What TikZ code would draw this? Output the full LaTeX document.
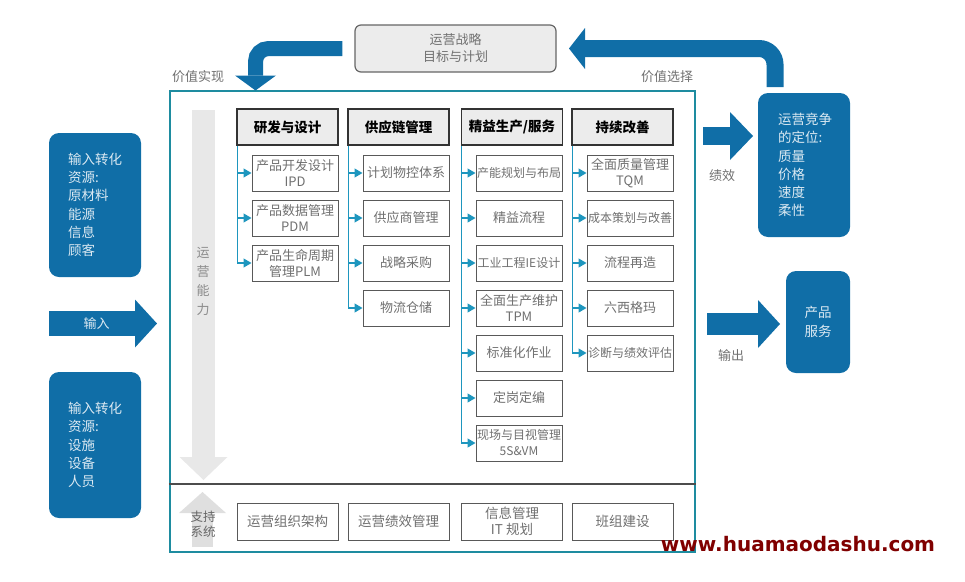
\documentclass[tikz,border=0pt]{standalone}
\usepackage{fontspec}
\usetikzlibrary{arrows.meta}
\newfontfamily\cjk{Noto Sans CJK SC}
\newfontfamily\wmfont{DejaVu Sans}
\definecolor{opblue}{RGB}{16,110,167}
\definecolor{frameteal}{RGB}{30,140,160}
\definecolor{linkteal}{RGB}{30,150,190}
\definecolor{capgray}{RGB}{232,232,232}
\definecolor{txtgray}{RGB}{112,112,112}
\definecolor{wmred}{RGB}{128,0,0}
\newcommand\fres{\cjk\fontsize{13.5}{18.3}\selectfont}
\newcommand\fhead{\cjk\bfseries\fontsize{13.5}{16}\selectfont}
\newcommand\fsub{\cjk\fontsize{13}{16}\selectfont}
\newcommand\fsubs{\cjk\fontsize{12}{16}\selectfont}
\newcommand\fbase{\cjk\fontsize{13.5}{16}\selectfont}
\newcommand\fnote{\cjk\fontsize{13}{17}\selectfont}

\begin{document}
\begin{tikzpicture}[x=1pt, y=-1pt,
  res/.style={rectangle, rounded corners=10pt, fill=opblue, minimum width=92pt,
              minimum height=144pt, text=white!85!opblue, font=\fres,
              align=left, text width=54pt, inner sep=0pt},
  colhead/.style={rectangle, draw=black!80, line width=1.8pt, fill=gray!15,
                  minimum width=101pt, minimum height=36pt, font=\fhead, inner sep=0pt},
  sub/.style={rectangle, draw=black!65, line width=1pt, fill=white,
              minimum width=86pt, minimum height=36pt, text=txtgray,
              font=\fsub, align=center, inner sep=0pt},
  tight/.style={font=\fsubs},
  base/.style={sub, minimum width=101pt, minimum height=37pt, font=\fbase},
  note/.style={font=\fnote, text=txtgray, align=center},
  fatarrow/.style n args={3}{draw=opblue, line width=#1,
                             -{Triangle[length=#2, width=#3, line width=0pt]}},
  trunk/.style={draw=linkteal, line width=1.2pt, -{Triangle[length=8pt, width=9pt]}}
]
\useasboundingbox (0,0) rectangle (965,581);

% Frame and strategy box
\node[draw=frameteal, line width=2.5pt, minimum width=525pt, minimum height=461pt,
      inner sep=0pt] at (432.5,321.5) (frame) {};
\coordinate (sepy) at (0,484);
\draw[black!70, line width=1.2pt] (frame.west |- sepy) -- (frame.east |- sepy);
\node[rectangle, rounded corners=6pt, draw=black!60, line width=1.2pt, fill=gray!15,
      minimum width=201pt, minimum height=47pt, note, font=\fnote]
      at (455.5,48.5) (strat) {运营战略\\目标与计划};

% Loop arrows
\coordinate (realize) at (255.5,90.5);
\coordinate (rise)    at (775,87);
\coordinate (choose)  at (569,48.5);
\draw[fatarrow={15pt}{15pt}{41pt}, rounded corners=13pt] ([xshift=-12pt]strat.west) -| (realize);
\draw[fatarrow={17pt}{16pt}{41pt}, rounded corners=16pt] (rise) |- (choose);
\node[note] at (198,77) (lreal) {价值实现};
\node[note] at (667,77) (lsel)  {价值选择};

% Inputs
\node[res] at (95,205)  (resA) {输入转化\\资源:\\原材料\\能源\\信息\\顾客};
\node[res, minimum height=146pt] at (95,445) (resB) {输入转化\\资源:\\设施\\设备\\人员};
\coordinate (inL) at (49,323.5);
\coordinate (inR) at (157,323.5);
\draw[fatarrow={25pt}{22pt}{48pt}] (inL) -- (inR)
  node[pos=0.44, font=\fnote, text=white!85!opblue] {输入};

% Outputs
\node[res, text width=52pt] at (804,165) (compete) {运营竞争\\的定位:\\质量\\价格\\速度\\柔性};
\node[res, minimum width=64pt, minimum height=102pt, text width=, align=center]
      at (818,322) (product) {产品\\服务};
\coordinate (perfL) at (703,136);
\coordinate (perfR) at (753,136);
\coordinate (outL)  at (707,324);
\coordinate (outR)  at (780,324);
\draw[fatarrow={18pt}{23pt}{48pt}] (perfL) -- (perfR);
\draw[fatarrow={22pt}{22pt}{48pt}] (outL) -- (outR);
\node[note] at (722,176) (lperf) {绩效};
\node[note] at (731,356) (lout)  {输出};

% Capability and support arrows
\coordinate (capT) at (203.5,110);
\coordinate (capB) at (203.5,480);
\draw[fatarrow={23pt}{23pt}{48pt}, draw=capgray] (capT) -- (capB);
\node[note, text=black!45, font=\cjk\fontsize{13}{19}\selectfont] at (203,281.5) (cap) {运\\营\\能\\力};
\coordinate (supB) at (202.5,547);
\coordinate (supT) at (202.5,492);
\draw[fatarrow={21pt}{21pt}{47pt}, draw=gray!25] (supB) -- (supT);
\node[note, text=black!60, font=\cjk\fontsize{12.5}{15}\selectfont] at (203,524.5) (sup) {支持\\系统};

% Column heads
\node[colhead] at (287.5,127) (h1) {研发与设计};
\node[colhead] at (398.5,127) (h2) {供应链管理};
\node[colhead] at (512,127)   (h3) {精益生产/服务};
\node[colhead] at (622.5,127) (h4) {持续改善};

% Column 1
\node[sub] at (295,173) (s11) {产品开发设计\\IPD};
\node[sub] at (295,218) (s12) {产品数据管理\\PDM};
\node[sub] at (295,263) (s13) {产品生命周期\\管理PLM};

% Column 2
\node[sub] at (406,173) (s21) {计划物控体系};
\node[sub] at (406,218) (s22) {供应商管理};
\node[sub] at (406,263) (s23) {战略采购};
\node[sub] at (406,308) (s24) {物流仓储};

% Column 3
\node[sub, tight] at (519,173) (s31) {产能规划与布局};
\node[sub]        at (519,218) (s32) {精益流程};
\node[sub, tight] at (519,263) (s33) {工业工程IE设计};
\node[sub]        at (519,308) (s34) {全面生产维护\\TPM};
\node[sub]        at (519,353) (s35) {标准化作业};
\node[sub]        at (519,398) (s36) {定岗定编};
\node[sub, tight] at (519,443) (s37) {现场与目视管理\\5S\&VM};

% Column 4
\node[sub]        at (630,173) (s41) {全面质量管理\\TQM};
\node[sub, tight] at (630,218) (s42) {成本策划与改善};
\node[sub]        at (630,263) (s43) {流程再造};
\node[sub]        at (630,308) (s44) {六西格玛};
\node[sub, tight] at (630,353) (s45) {诊断与绩效评估};

% Trunks and branches
\draw[trunk] ([xshift=1pt]h1.south west) |- (s13.west);
\draw[trunk] ([xshift=1pt]h1.south west |- s11.west) -- (s11.west);
\draw[trunk] ([xshift=1pt]h1.south west |- s12.west) -- (s12.west);

\draw[trunk] ([xshift=1pt]h2.south west) |- (s24.west);
\draw[trunk] ([xshift=1pt]h2.south west |- s21.west) -- (s21.west);
\draw[trunk] ([xshift=1pt]h2.south west |- s22.west) -- (s22.west);
\draw[trunk] ([xshift=1pt]h2.south west |- s23.west) -- (s23.west);

\draw[trunk] ([xshift=1pt]h3.south west) |- (s37.west);
\draw[trunk] ([xshift=1pt]h3.south west |- s31.west) -- (s31.west);
\draw[trunk] ([xshift=1pt]h3.south west |- s32.west) -- (s32.west);
\draw[trunk] ([xshift=1pt]h3.south west |- s33.west) -- (s33.west);
\draw[trunk] ([xshift=1pt]h3.south west |- s34.west) -- (s34.west);
\draw[trunk] ([xshift=1pt]h3.south west |- s35.west) -- (s35.west);
\draw[trunk] ([xshift=1pt]h3.south west |- s36.west) -- (s36.west);

\draw[trunk] ([xshift=1pt]h4.south west) |- (s45.west);
\draw[trunk] ([xshift=1pt]h4.south west |- s41.west) -- (s41.west);
\draw[trunk] ([xshift=1pt]h4.south west |- s42.west) -- (s42.west);
\draw[trunk] ([xshift=1pt]h4.south west |- s43.west) -- (s43.west);
\draw[trunk] ([xshift=1pt]h4.south west |- s44.west) -- (s44.west);

% Support row
\node[base] at (287.5,521.5) (b1) {运营组织架构};
\node[base] at (398.5,521.5) (b2) {运营绩效管理};
\node[base] at (512,521.5)   (b3) {信息管理\\IT 规划};
\node[base] at (622.5,521.5) (b4) {班组建设};

% Watermark
\node[font=\wmfont\bfseries\fontsize{20}{24}\selectfont, text=wmred] at (798,544) (wm) {www.huamaodashu.com};
\end{tikzpicture}
\end{document}
